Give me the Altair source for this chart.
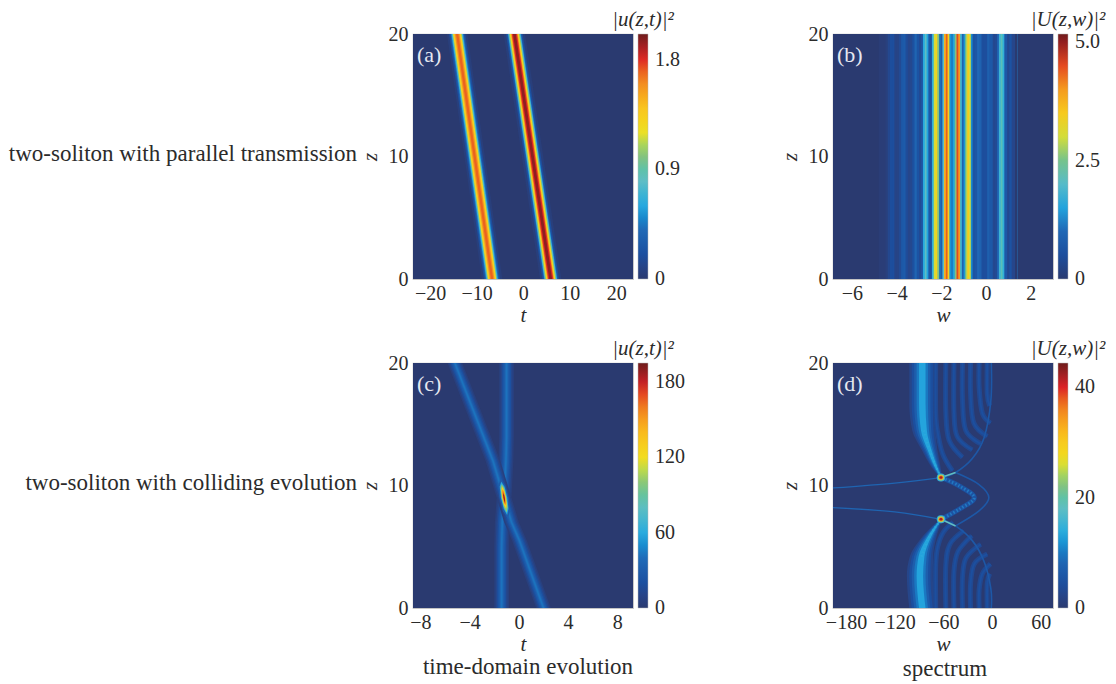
import altair as alt
import pandas as pd

FONT = "Liberation Serif"
INK = "#2b2b2b"
W, H = 220, 245
COLORS = ["#2a3a70", "#1c4f9f", "#2069b6", "#27a9e0", "#5fbdc6", "#84c27f",
          "#f0e020", "#f9c41f", "#f28c22", "#dd2226", "#6f1c1c"]

# (a) beams: centres at z=0 and z=20, and intensity level -> half width in t
a_z = [0, 20]
a_beam1_t = [-6.7, -14.2]
a_beam2_t = [5.9, -1.9]
a_beam1_v = [0.05, 0.2, 0.4, 0.6, 0.8, 1.0, 1.2, 1.4, 1.6, 1.7]
a_beam1_h = [2.2, 1.75, 1.45, 1.25, 1.1, 1.0, 0.88, 0.75, 0.5, 0.25]
a_beam2_v = [0.05, 0.2, 0.4, 0.6, 0.8, 1.0, 1.2, 1.4, 1.6, 1.8, 1.95]
a_beam2_h = [2.3, 1.8, 1.5, 1.36, 1.25, 1.15, 1.0, 0.85, 0.7, 0.55, 0.3]

# (b) spectrum across w, the same at every z
b_w = [-6.85, -4.8, -4.5, -4.4, -4.3, -4.2, -4.1, -4.0, -3.9, -3.8, -3.7, -3.6, -3.5, -3.4, -3.3,
       -3.2, -3.1, -3.0, -2.9, -2.82, -2.74, -2.66, -2.58, -2.5, -2.42, -2.34, -2.26, -2.18, -2.1,
       -2.02, -1.95, -1.88, -1.8, -1.72, -1.64, -1.56, -1.48, -1.4, -1.32, -1.24, -1.16, -1.08,
       -1.0, -0.92, -0.84, -0.76, -0.68, -0.6, -0.5, -0.4, -0.3, -0.2, -0.1, 0.05, 0.15, 0.3, 0.4,
       0.5, 0.58, 0.66, 0.74, 0.82, 0.95, 1.05, 1.15, 1.3]
b_v = [0, 0.08, 0.15, 0.35, 0.5, 0.5, 0.25, 0.25, 0.4, 0.7, 0.75, 0.45, 0.3, 0.35, 0.55,
       0.95, 0.6, 0.4, 0.7, 1.6, 2.1, 1.5, 0.7, 0.6, 1.7, 3.0, 3.4, 2.6, 1.1,
       0.8, 2.0, 3.8, 4.4, 3.4, 1.4, 1.2, 1.5, 2.6, 4.5, 4.0, 1.8, 0.9,
       1.4, 2.8, 3.5, 3.0, 1.3, 0.6, 0.65, 1.0, 0.9, 0.5, 0.5, 0.85, 0.7, 0.35, 0.4,
       1.0, 1.8, 2.2, 1.7, 0.7, 0.35, 0.6, 0.3, 0]

# (c) beam ridges (t, z), and the level -> half width in t
c_v = [6, 12, 20, 28, 36, 42]
c_h = [0.6, 0.48, 0.36, 0.26, 0.15, 0.07]
c_lines = [
    ([-1.4, -1.4, -1.35, -1.2], [0, 5, 7, 9]),
    ([2.0, 0.05, -0.6, -1.2], [0, 5.5, 7, 9]),
    ([-1.2, -1.05, -1.0, -1.0], [9, 12, 14, 20]),
    ([-1.2, -2.1, -5.2], [9, 12, 20]),
]
c_core_v = [30, 60, 100, 130, 160, 190]
c_core_hw = [0.38, 0.26, 0.2, 0.15, 0.1, 0.05]
c_core_f = [0, 0.75, 1, 0.75, 0]
c_core_z = [[7.3, 7.9, 9, 10, 10.6], [7.6, 8.1, 9, 9.9, 10.3], [7.8, 8.2, 9, 9.8, 10.1],
            [8.1, 8.4, 9, 9.6, 9.9], [8.4, 8.6, 9, 9.4, 9.7], [8.6, 8.8, 9, 9.2, 9.4]]
c_core_t = [[-0.90, -1.01, -1.2, -1.38, -1.48], [-0.955, -1.04, -1.2, -1.36, -1.43],
            [-0.99, -1.06, -1.2, -1.34, -1.39], [-1.04, -1.095, -1.2, -1.305, -1.36],
            [-1.095, -1.13, -1.2, -1.27, -1.32], [-1.13, -1.165, -1.2, -1.235, -1.27]]

# (d) main band ridges with half-width factor; level -> half width in w
d_v = [2.5, 4.5, 7, 10, 13]
d_h = [16, 13, 10, 7, 4]
d_top_w = [-86, -86, -84, -77, -69, -63]
d_top_z = [20, 16.7, 14.5, 12.9, 11.5, 10.7]
d_top_f = [1, 1, 0.9, 0.6, 0.35, 0.1]
d_bot_w = [-86, -89, -87, -79, -71, -63]
d_bot_z = [0, 2.6, 4.2, 5.6, 6.5, 7.2]
d_bot_f = [1, 1, 0.9, 0.6, 0.35, 0.1]
d_fringes = [
    ([-69.5, -69.5, -67.5, -61, -49], [20, 16, 14.5, 12.6, 11.2]),
    ([-57, -57, -53, -36.5], [20, 16, 13.7, 12.3]),
    ([-47, -47, -43, -24.5], [20, 16, 14, 12.9]),
    ([-36.5, -36.5, -32.5, -14], [20, 17, 14.5, 13.4]),
    ([-26.5, -26.5, -22.5, -6], [20, 17.5, 15.1, 14]),
    ([-16, -16, -12, -2], [20, 18, 15.9, 15.1]),
    ([-6, -6, -3], [20, 17.5, 16.5]),
    ([-69.5, -69.5, -67, -60, -48], [0, 3.5, 5, 6.2, 7]),
    ([-57, -57, -52, -35], [0, 3.5, 5.2, 6.3]),
    ([-47, -47, -42, -25], [0, 3, 4.6, 5.9]),
    ([-36.5, -36.5, -32, -14], [0, 2.5, 4.1, 5.2]),
    ([-26.5, -26.5, -22, -6], [0, 2, 3.6, 4.4]),
    ([-16, -16, -12, -2], [0, 1.5, 2.8, 3.6]),
    ([-6, -6, -3], [0, 2, 2.8]),
]
d_arcs = [
    ([-63, -45, -24.4, -9.9, -1.6, -1], [7.24, 6.7, 5.5, 3.8, 1.6, 0]),
    ([-63, -45, -24.4, -9.9, -1.6, -1], [10.65, 11.06, 12.2, 13.9, 16.9, 20]),
    ([-45, -16.5, -4, -16.5, -45], [6.7, 7.9, 9, 10.1, 11.06]),
]
d_nose_w = [-63, -40.6, -22, -40.6, -63]
d_nose_z = [7.24, 8.06, 9, 9.97, 10.65]
d_wings = [
    ([-196, -120, -63], [8.2, 7.85, 7.24]),
    ([-196, -120, -63], [9.8, 10.2, 10.65]),
]
d_streaks = [([-63, -45], [7.24, 6.7]), ([-63, -45], [10.65, 11.06])]
d_hot = [([-63.3, -62.7], [7.24, 7.24]), ([-63.3, -62.7], [10.65, 10.65])]


def shade(value, vmax):
    # the colour that the panel's colour bar gives to a level
    pos = min(value / vmax, 1) * (len(COLORS) - 1)
    i = min(int(pos), len(COLORS) - 2)
    a, b = COLORS[i], COLORS[i + 1]
    mix = [round(int(a[k:k + 2], 16) * (1 - pos + i) + int(b[k:k + 2], 16) * (pos - i)) for k in (1, 3, 5)]
    return "#%02x%02x%02x" % tuple(mix)


def xenc(field, dom, ticks=None, title=None):
    kw = {}
    if ticks is not None:
        kw["axis"] = alt.Axis(values=ticks, title=title, domain=False, ticks=False, grid=False, labelFont=FONT,
                              labelFontSize=20, labelColor=INK, labelPadding=4, titleFont=FONT, titleFontSize=21,
                              titleFontStyle="italic", titleFontWeight="normal", titleColor=INK, titlePadding=1,
                              format="d", labelOverlap=False)
    return alt.X(field, type="quantitative", scale=alt.Scale(domain=dom, nice=False, zero=False), **kw)


def yenc(field, axis=False):
    kw = {}
    if axis:
        kw["axis"] = alt.Axis(values=[0, 10, 20], title="z", domain=False, ticks=False, grid=False, labelFont=FONT,
                              labelFontSize=20, labelColor=INK, labelPadding=5, titleFont=FONT, titleFontSize=21,
                              titleFontStyle="italic", titleFontWeight="normal", titleColor=INK, titlePadding=8,
                              format="d")
    return alt.Y(field, type="quantitative", scale=alt.Scale(domain=[0, 20], nice=False, zero=False), **kw)


def cenc(vmax, ticks=None, expr=None):
    if ticks is not None:
        lk = dict(labelExpr=expr) if expr else {}
        leg = alt.Legend(title=None, values=ticks, orient="right", offset=5, padding=0, gradientLength=H,
                         gradientThickness=10, labelFont=FONT, labelFontSize=20, labelColor=INK,
                         labelOffset=7, labelBaseline="middle", type="gradient",
                         gradientStrokeColor="#bbbbbb", gradientStrokeWidth=0.5, **lk)
    else:
        leg = None
    return alt.Color("v:Q", scale=alt.Scale(domain=[0, vmax], range=COLORS, nice=False, clamp=True), legend=leg)


def area_rows(ridge_w, ridge_z, values, halves, start=0, factor=None):
    rows = []
    for k, (v, h) in enumerate(zip(values, halves)):
        for i, (c, z) in enumerate(zip(ridge_w, ridge_z)):
            f = factor[i] if factor else 1
            rows.append(dict(g=f"{start + k:03d}", v=v, z=z, l=c - h * f, r=c + h * f))
    return rows


def areas(rows, dom, color, curve="linear"):
    return alt.Chart(pd.DataFrame(rows)).mark_area(orient="horizontal", clip=True, interpolate=curve).encode(
        x=xenc("l", dom), x2="r:Q", y=yenc("z"), detail="g:N", color=color)


def polyline(segments, dom, vmax, value, width, dash=None, opacity=1.0, cap="butt"):
    rows = []
    for n, (ws, zs) in enumerate(segments):
        for i, (w, z) in enumerate(zip(ws, zs)):
            rows.append(dict(g=n, i=i, w=w, z=z))
    kw = dict(strokeDash=dash) if dash else {}
    return alt.Chart(pd.DataFrame(rows)).mark_line(clip=True, strokeWidth=width, opacity=opacity, strokeCap=cap,
                                                   color=shade(value, vmax), interpolate="cardinal", **kw).encode(
        x=xenc("w", dom), y=yenc("z"), detail="g:N", order="i:Q")


def text(s, x, y, size=20, color=INK, align="center", style="normal"):
    return alt.Chart(pd.DataFrame({"s": [s]})).mark_text(
        font=FONT, fontSize=size, color=color, align=align, baseline="middle", fontStyle=style
    ).encode(x=alt.value(x), y=alt.value(y), text="s:N")


def axis_base(dom, ticks, xtitle, color):
    # the background of the panel: the level 0, which also carries the axes and the colour bar
    df = pd.DataFrame({"w": [dom[0]], "w2": [dom[1]], "z": [0], "z2": [20], "v": [0]})
    return alt.Chart(df).mark_rect().encode(x=xenc("w", dom, ticks, xtitle), x2="w2:Q",
                                            y=yenc("z", True), y2="z2:Q", color=color)


def panel(layers, side, label, title_s, left=None, left_y=120, under=None):
    # the colour bar's own "0" is written at the foot of the bar, where the reference has it
    extras = [text(label, 4, 21, 22, "#e6e8f0", "left"), text(title_s, side, -14, 21, style="italic"),
              text("0", 242, H, 20, INK, "left")]
    if left:
        extras.append(text(left, -56, left_y, 23, INK, "right"))
    if under:
        extras.append(text(under[0], under[1], under[2], 23))
    return alt.layer(*layers, *extras).properties(width=W, height=H)


# panel (a)
dom_a = [-23.7, 23.6]
col_a = cenc(2.01, [0.9, 1.8], "format(datum.value,'.1f')")
rows_a = area_rows(a_beam1_t, a_z, a_beam1_v, a_beam1_h) + area_rows(a_beam2_t, a_z, a_beam2_v, a_beam2_h, start=100)
pa = panel([axis_base(dom_a, [-20, -10, 0, 10, 20], "t", col_a), areas(rows_a, dom_a, cenc(2.01))],
           230, "(a)", "|u(z,t)|²", left="two-soliton with parallel transmission")

# panel (b)
dom_b = [-6.85, 3.0]
col_b = cenc(5.17, [2.5, 5.0], "format(datum.value,'.1f')")
df_b = pd.DataFrame({"w": b_w, "v": b_v, "end": 1.4, "z0": 0, "z1": 20})
rect_b = alt.Chart(df_b).mark_rect(clip=True).encode(
    x=xenc("w", dom_b), x2="end:Q", y=yenc("z0"), y2="z1:Q", color=cenc(5.17))
pb = panel([axis_base(dom_b, [-6, -4, -2, 0, 2], "w", col_b), rect_b], 235, "(b)", "|U(z,w)|²")

# panel (c)
dom_c = [-8.6, 9.27]
col_c = cenc(195, [60, 120, 180])
rows_c = []
for n, (ts, zs) in enumerate(c_lines):
    rows_c += area_rows(ts, zs, c_v, c_h, start=n * 10)
for n, (v, hw) in enumerate(zip(c_core_v, c_core_hw)):
    for i, (t, z) in enumerate(zip(c_core_t[n], c_core_z[n])):
        f = c_core_f[i]
        rows_c.append(dict(g=f"{100 + n:03d}", v=v, z=z, l=t - hw * f, r=t + hw * f))
pc = panel([axis_base(dom_c, [-8, -4, 0, 4, 8], "t", col_c), areas(rows_c, dom_c, cenc(195))],
           230, "(c)", "|u(z,t)|²", left="two-soliton with colliding evolution",
           under=("time-domain evolution", 115, 304))

# panel (d)
dom_d = [-196, 75]
MAX_D = 44.4
col_d = cenc(MAX_D, [20, 40])
fill_d = cenc(MAX_D)
rows_d = area_rows(d_top_w, d_top_z, d_v, d_h, factor=d_top_f) + area_rows(d_bot_w, d_bot_z, d_v, d_h, start=100, factor=d_bot_f)
ridge = [(d_nose_w, d_nose_z)]
pd_panel = panel(
    [axis_base(dom_d, [-180, -120, -60, 0, 60], "w", col_d),
     areas(rows_d, dom_d, fill_d, "monotone"),
     polyline(d_fringes, dom_d, MAX_D, 3.0, 5),
     polyline(d_fringes, dom_d, MAX_D, 4.5, 2),
     polyline(d_arcs, dom_d, MAX_D, 6, 1.6),
     polyline(ridge, dom_d, MAX_D, 5, 5),
     polyline(ridge, dom_d, MAX_D, 10, 3, dash=[1.5, 2]),
     polyline(d_wings, dom_d, MAX_D, 8, 1.2),
     polyline([(d_top_w[2:], d_top_z[2:]), (d_bot_w[2:], d_bot_z[2:])], dom_d, MAX_D, 14, 2.5, dash=[1.5, 2.5], opacity=0.6),
     polyline(d_streaks, dom_d, MAX_D, 18, 1.6),
     polyline(d_hot, dom_d, MAX_D, 14, 8, cap="round"),
     polyline(d_hot, dom_d, MAX_D, 24, 6, cap="round"),
     polyline(d_hot, dom_d, MAX_D, 36, 4, cap="round"),
     polyline(d_hot, dom_d, MAX_D, 42, 2.5, cap="round")],
    235, "(d)", "|U(z,w)|²", under=("spectrum", 112, 306))

chart = alt.concat(pa, pb, pc, pd_panel, columns=2,
                   spacing=alt.RowColnumber(column=92, row=11)).resolve_scale(
    color="independent").resolve_legend(
    color="independent").properties(padding=0, background="white").configure_view(stroke="#c4c4c4", strokeWidth=1.2)

chart.save("out.html", embed_options={"renderer": "svg", "actions": False})
